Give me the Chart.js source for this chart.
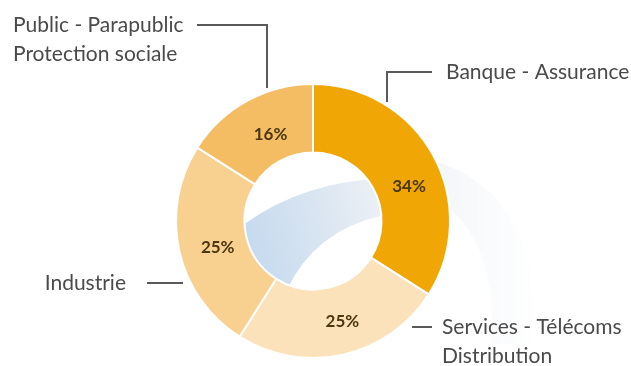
<!DOCTYPE html>
<html>
<head>
<meta charset="utf-8">
<script src="https://cdn.jsdelivr.net/npm/chart.js@4.4.0/dist/chart.umd.min.js"></script>
<style>
  html, body { margin: 0; padding: 0; background: #ffffff; }
  #wrap { position: relative; width: 631px; height: 366px; }
</style>
</head>
<body>
<div id="wrap"><canvas id="sectorChart" width="631" height="366"></canvas></div>
<script>
// Données du graphique
const secteurs = [
    ['Banque - Assurance'],
    ['Services - Télécoms', 'Distribution'],
    ['Industrie'],
    ['Public - Parapublic', 'Protection sociale']
];
const parts = [34, 25, 25, 16];
const couleurs = ['#f0a706', '#fbe2ba', '#f8d190', '#f5bd63'];

// Décalage des pourcentages par rapport au centre de chaque secteur
const decalagesPct = [[6, 15], [7, 0], [5, 4], [7, 4]];

// Disposition des étiquettes extérieures
const etiquettes = [
    { angle: 32.5, start: null, elbow: [387, 72], end: [432, 72], text: [446, 72], align: 'left' },
    { angle: null, start: [412, 327], elbow: null, end: [432, 327], text: [442, 327], align: 'left' },
    { angle: null, start: [183, 283], elbow: null, end: [147, 283], text: [126, 283], align: 'right' },
    { angle: -19.5, start: null, elbow: [267, 25], end: [197, 25], text: [13, 25], align: 'left' }
];

const FONT_LABEL = '21px Lato, "Open Sans", sans-serif';
const FONT_PCT = 'bold 17px Lato, "Open Sans", sans-serif';

// Décor bleuté au centre de l'anneau
const swirlPlugin = {
    id: 'swirl',
    beforeDatasetsDraw(chart) {
        const arc = chart.getDatasetMeta(0).data[0];
        if (!arc) return;
        const { x: cx, y: cy, innerRadius: ri, outerRadius: ro } = arc.getProps(['x', 'y', 'innerRadius', 'outerRadius'], true);
        const ctx = chart.ctx;
        ctx.save();

        // traînée très pâle à droite
        const g2 = ctx.createLinearGradient(cx + ro, 0, cx + ro + 100, 0);
        g2.addColorStop(0, 'rgba(232,237,243,0.45)');
        g2.addColorStop(1, 'rgba(244,246,249,0)');
        ctx.fillStyle = g2;
        ctx.beginPath();
        ctx.moveTo(cx + ro * 0.85, cy - ro * 0.45);
        ctx.quadraticCurveTo(cx + ro * 1.7, cy - ro * 0.2, cx + ro * 1.6, cy + ro * 0.9);
        ctx.lineTo(cx + ro * 1.3, cy + ro * 0.9);
        ctx.quadraticCurveTo(cx + ro * 1.35, cy + ro * 0.1, cx + ro * 0.9, cy - ro * 0.15);
        ctx.closePath();
        ctx.fill();

        // bande dans le trou central
        ctx.beginPath();
        ctx.arc(cx, cy, ri, 0, Math.PI * 2);
        ctx.clip();
        const g = ctx.createLinearGradient(cx - ri, cy, cx + ri, cy - ri * 0.5);
        g.addColorStop(0, '#c6daef');
        g.addColorStop(0.6, '#dde7f2');
        g.addColorStop(1, '#edf1f6');
        ctx.fillStyle = g;
        ctx.beginPath();
        ctx.moveTo(cx - ri * 0.98, cy + ri * 0.03);
        ctx.quadraticCurveTo(cx - ri * 0.1, cy - ri * 0.6, cx + ri * 1.1, cy - ri * 0.62);
        ctx.lineTo(cx + ri * 1.1, cy - ri * 0.1);
        ctx.quadraticCurveTo(cx + ri * 0.05, cy + ri * 0.1, cx - ri * 0.38, cy + ri * 1.0);
        ctx.lineTo(cx - ri * 1.2, cy + ri * 1.2);
        ctx.closePath();
        ctx.fill();
        ctx.restore();
    }
};

// Pourcentages et étiquettes avec traits de rappel
const labelsPlugin = {
    id: 'sectorLabels',
    afterDatasetsDraw(chart) {
        const ctx = chart.ctx;
        const meta = chart.getDatasetMeta(0);
        ctx.save();

        // pourcentages dans les secteurs
        ctx.font = FONT_PCT;
        ctx.fillStyle = '#4a3712';
        ctx.textAlign = 'center';
        ctx.textBaseline = 'middle';
        meta.data.forEach((arc, i) => {
            const p = arc.getCenterPoint();
            ctx.fillText(parts[i] + '%', p.x + decalagesPct[i][0], p.y + decalagesPct[i][1]);
        });

        // étiquettes extérieures
        const first = meta.data[0];
        const cx = first.x, cy = first.y, ro = first.outerRadius;
        ctx.strokeStyle = '#5a5a5a';
        ctx.lineWidth = 2;
        ctx.font = FONT_LABEL;
        ctx.fillStyle = '#4a4a4a';
        etiquettes.forEach((lab, i) => {
            ctx.beginPath();
            if (lab.elbow) {
                const a = lab.angle * Math.PI / 180;
                const ay = cy - Math.cos(a) * (ro + 4);
                ctx.moveTo(lab.elbow[0], ay);
                ctx.lineTo(lab.elbow[0], lab.elbow[1]);
            } else {
                ctx.moveTo(lab.start[0], lab.start[1]);
            }
            ctx.lineTo(lab.end[0], lab.end[1]);
            ctx.stroke();

            ctx.textAlign = lab.align;
            secteurs[i].forEach((line, k) => {
                ctx.fillText(line, lab.text[0], lab.text[1] + k * 29);
            });
        });
        ctx.restore();
    }
};

const chart = new Chart(document.getElementById('sectorChart'), {
    type: 'doughnut',
    data: {
        labels: secteurs.map(s => s.join(' ')),
        datasets: [{
            data: parts,
            backgroundColor: couleurs,
            borderColor: '#ffffff',
            borderWidth: 2
        }]
    },
    options: {
        responsive: false,
        animation: false,
        cutout: '50%',
        layout: {
            padding: { top: 83, bottom: 7, left: 175, right: 180 }
        },
        plugins: {
            legend: { display: false },
            tooltip: { enabled: false }
        }
    },
    plugins: [swirlPlugin, labelsPlugin]
});
</script>
</body>
</html>
